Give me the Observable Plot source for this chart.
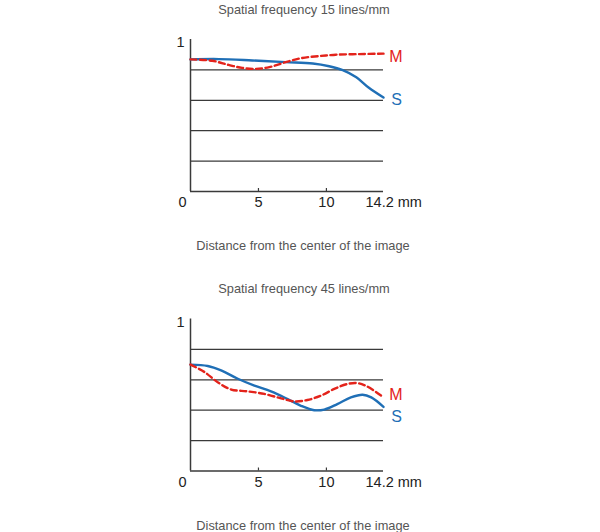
<!DOCTYPE html>
<html>
<head>
<meta charset="utf-8">
<script src="https://cdn.jsdelivr.net/npm/d3@7"></script>
<script src="https://cdn.jsdelivr.net/npm/@observablehq/plot@0.6"></script>
<style>
  body { margin: 0; background: #fff; }
  #charts svg { display: block; }
</style>
</head>
<body>
<div id="charts"></div>
<script>
// ---- data ----
const titles = ["Spatial frequency 15 lines/mm", "Spatial frequency 45 lines/mm"];
const caption = "Distance from the center of the image";
const gridValues = [0.2, 0.4, 0.6, 0.8];
const xTicks = [5, 10];
const xMax = 14.2;

// 15 lines/mm
const s15x = [0, 2.1, 4.55, 7.0, 9.0, 10.2, 11.2, 12.2, 13.1, 14.2];
const s15y = [0.869, 0.871, 0.862, 0.851, 0.842, 0.824, 0.798, 0.751, 0.684, 0.618];
const m15x = [0, 1.6, 2.8, 3.8, 4.8, 5.8, 7.0, 8.2, 9.5, 10.7, 12.4, 14.2];
const m15y = [0.869, 0.860, 0.833, 0.813, 0.807, 0.818, 0.851, 0.878, 0.891, 0.900, 0.904, 0.907];

// 45 lines/mm
const s45x = [0, 1.27, 2.25, 3.48, 4.7, 5.92, 7.15, 8.13, 9.1, 9.84, 10.8, 11.8, 12.66, 13.3, 14.2];
const s45y = [0.700, 0.691, 0.662, 0.607, 0.562, 0.524, 0.473, 0.429, 0.400, 0.404, 0.440, 0.484, 0.502, 0.484, 0.422];
const m45x = [0, 1.03, 2.0, 3.0, 4.2, 5.43, 6.66, 7.64, 8.6, 9.6, 10.58, 11.56, 12.3, 13.0, 14.2];
const m45y = [0.700, 0.651, 0.584, 0.536, 0.524, 0.507, 0.478, 0.458, 0.467, 0.496, 0.540, 0.573, 0.578, 0.556, 0.484];

const RED = "#e3231b";
const BLUE = "#1f6fb6";
const FONT = "'Liberation Sans', Arial, Helvetica, sans-serif";

function pts(xs, ys) { return xs.map((x, i) => ({x, y: ys[i]})); }

function chart(title, S, M, opts) {
  const sLast = S[S.length - 1], mLast = M[M.length - 1];
  return Plot.plot({
    width: 600,
    height: opts.height,
    marginTop: opts.top,
    marginBottom: opts.height - opts.top - 152,
    marginLeft: 190,
    marginRight: 217,
    style: {fontFamily: FONT, background: "#fff", overflow: "visible"},
    x: {domain: [0, xMax], axis: null},
    y: {domain: [0, 1], axis: null},
    marks: [
      Plot.ruleY(gridValues, {stroke: "#3a3a3a", strokeWidth: 1.2}),
      Plot.ruleY([0], {stroke: "#3a3a3a", strokeWidth: 1.5}),
      Plot.ruleX([0], {stroke: "#3a3a3a", strokeWidth: 1.5}),
      Plot.ruleX(xTicks, {stroke: "#3a3a3a", strokeWidth: 1.2, insetTop: 149}),
      Plot.line(S, {x: "x", y: "y", curve: "catmull-rom", stroke: BLUE, strokeWidth: 2.4}),
      Plot.line(M, {x: "x", y: "y", curve: "catmull-rom", stroke: RED, strokeWidth: 2.4, strokeDasharray: "6,3.5"}),
      // series labels
      Plot.text([mLast], {x: "x", y: "y", text: () => "M", fill: RED, fontSize: 16, dx: 12.5, dy: opts.mdy}),
      Plot.text([sLast], {x: "x", y: "y", text: () => "S", fill: BLUE, fontSize: 16, dx: 13, dy: opts.sdy}),
      // y label "1"
      Plot.text([1], {x: 0, y: d => d, text: () => "1", fill: "#222", fontSize: 14.5, dx: -10, dy: 3}),
      // x tick labels
      Plot.text([0], {x: d => d, y: 0, text: d => String(d), fill: "#222", fontSize: 14.5, dx: -8, dy: 11}),
      Plot.text(xTicks, {x: d => d, y: 0, text: d => String(d), fill: "#222", fontSize: 14.5, dy: 11}),
      Plot.text([xMax], {x: d => d, y: 0, text: d => d + " mm", fill: "#222", fontSize: 14.5, textAnchor: "start", dx: -18, dy: 11}),
      // title and caption
      Plot.text([title], {frameAnchor: "top", lineAnchor: "middle", fill: "#555", fontSize: 12.8, dx: 17, dy: opts.tdy}),
      Plot.text([caption], {frameAnchor: "bottom", lineAnchor: "middle", fill: "#555", fontSize: 12.8, dx: 16, dy: opts.cdy})
    ]
  });
}

const root = document.getElementById("charts");
root.appendChild(chart(titles[0], pts(s15x, s15y), pts(m15x, m15y),
  {height: 280, top: 39, mdy: 3, sdy: 2, tdy: -30, cdy: 54}));
root.appendChild(chart(titles[1], pts(s45x, s45y), pts(m45x, m45y),
  {height: 252, top: 38.5, mdy: -3, sdy: 10, tdy: -30.5, cdy: 55}));
</script>
</body>
</html>
